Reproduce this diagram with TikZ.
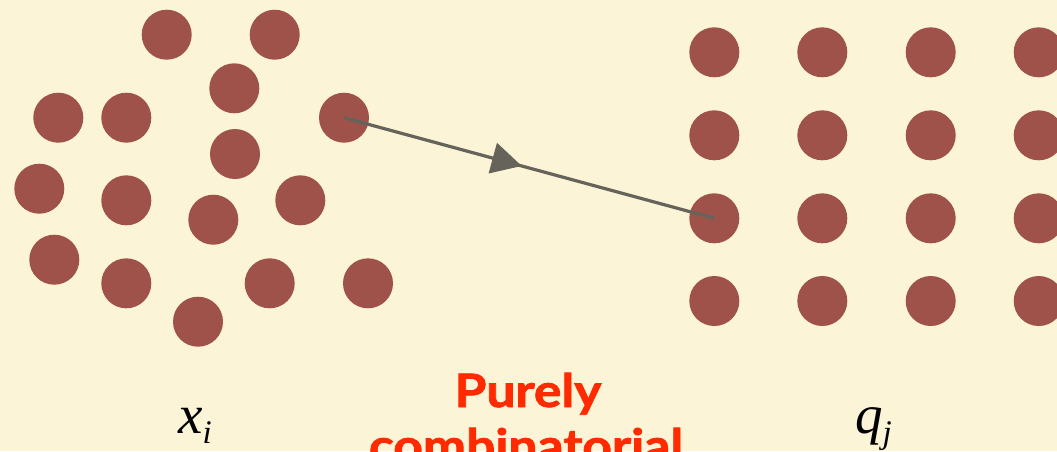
\documentclass[tikz,border=0pt]{standalone}
\usepackage{fontspec}
\setmainfont{Liberation Serif}
\newfontfamily\boldsans[BoldFeatures={FakeBold=1.6}]{Lato}
\usetikzlibrary{decorations.markings,arrows.meta}
\definecolor{bg}{HTML}{FCF4D6}
\definecolor{dotc}{HTML}{9E524A}
\definecolor{conn}{HTML}{66645A}
\definecolor{hl}{HTML}{FF2A00}
\begin{document}
\begin{tikzpicture}[x=1pt,y=-1pt,
  dotnode/.style={circle,fill=dotc,inner sep=0pt,minimum size=50pt},
  mapline/.style={draw=conn,line width=3.2pt,
    postaction={decorate,decoration={markings,
      mark=at position 0.48 with {\arrow[conn]{Triangle[length=30pt,width=31pt]}}}}},
  mathlabel/.style={anchor=base west,inner sep=0pt,font=\fontsize{55}{60}\selectfont\itshape},
  redtext/.style={anchor=base,inner sep=0pt,text=hl,font=\boldsans\bfseries\fontsize{46}{55}\selectfont}]
\fill[bg] (0,0) rectangle (1057,451);
\useasboundingbox (0,0) rectangle (1057,451);
\clip (0,0) rectangle (1057,451);
% scattered points
\node[dotnode] (a1) at (166.7,34.7) {};
\node[dotnode] (a2) at (274.7,34.7) {};
\node[dotnode] (a3) at (234.3,88.3) {};
\node[dotnode] (a4) at (58.3,117.7) {};
\node[dotnode] (a5) at (126.3,117.7) {};
\node[dotnode] (a6) at (344,117.7) {};
\node[dotnode] (a7) at (235,154) {};
\node[dotnode] (a8) at (39.3,188.7) {};
\node[dotnode] (a9) at (126.3,200.3) {};
\node[dotnode] (a10) at (300.3,200.3) {};
\node[dotnode] (a11) at (213.3,219.7) {};
\node[dotnode] (a12) at (54.3,259.7) {};
\node[dotnode] (a13) at (126.3,283.3) {};
\node[dotnode] (a14) at (269.7,283.3) {};
\node[dotnode] (a15) at (368,283.3) {};
\node[dotnode] (a16) at (198,321.7) {};
% grid points
\foreach \c/\x in {1/714.3,2/822.3,3/930.7,4/1038.7}{
  \foreach \r/\y in {1/52.3,2/135.3,3/218.3,4/301}{
    \node[dotnode] (g\r\c) at (\x,\y) {};
  }
}
% map
\draw[mapline] (a6.center) -- (g31.center);
% labels
\node[mathlabel] (xi) at (178,433) {x\raisebox{-10pt}{\fontsize{33}{36}\selectfont i}};
\node[mathlabel] (qj) at (855,433) {q\raisebox{-10pt}{\fontsize{33}{36}\selectfont j}};
\node[redtext] (purely) at (528,407) {\scalebox{1.12}[1]{Purely}};
\node[redtext] (combi) at (526,462) {\scalebox{1.12}[1]{combinatorial}};
\end{tikzpicture}
\end{document}
